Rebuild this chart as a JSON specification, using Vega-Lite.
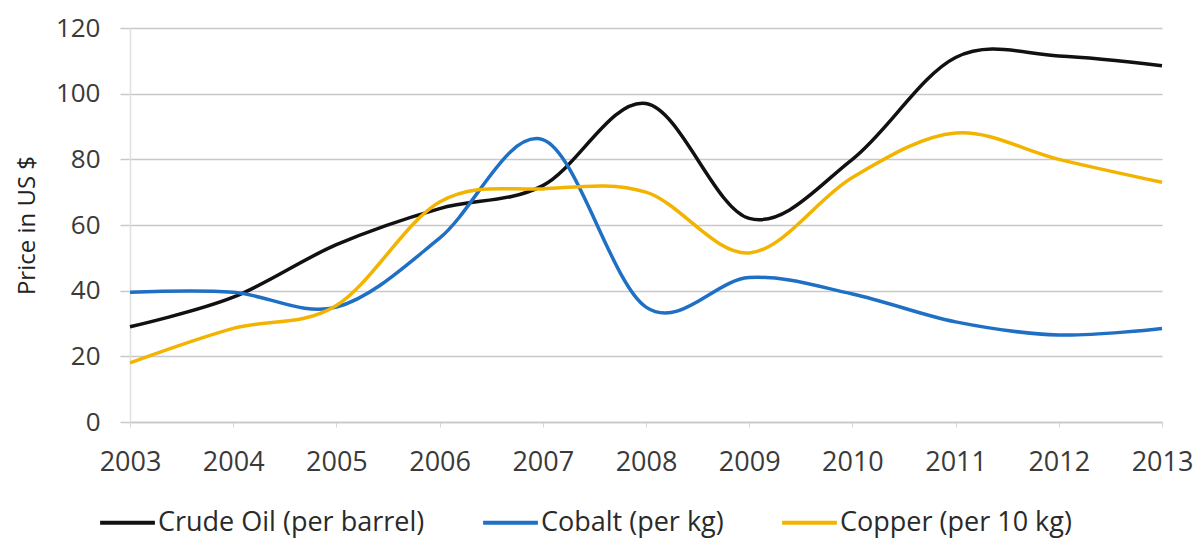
{
  "$schema": "https://vega.github.io/schema/vega-lite/v6.json",
  "width": 1032,
  "height": 394,
  "autosize": {"type": "none"},
  "padding": {"left": 130, "top": 28, "right": 39, "bottom": 123},
  "background": "white",
  "config": {
    "font": "Open Sans",
    "view": {"stroke": null}
  },
  "data": {
    "values": [
      {"year": 2003, "series": "Crude Oil (per barrel)", "price": 29},
      {"year": 2004, "series": "Crude Oil (per barrel)", "price": 38},
      {"year": 2005, "series": "Crude Oil (per barrel)", "price": 54},
      {"year": 2006, "series": "Crude Oil (per barrel)", "price": 65},
      {"year": 2007, "series": "Crude Oil (per barrel)", "price": 72},
      {"year": 2008, "series": "Crude Oil (per barrel)", "price": 97},
      {"year": 2009, "series": "Crude Oil (per barrel)", "price": 62},
      {"year": 2010, "series": "Crude Oil (per barrel)", "price": 80},
      {"year": 2011, "series": "Crude Oil (per barrel)", "price": 111},
      {"year": 2012, "series": "Crude Oil (per barrel)", "price": 111.5},
      {"year": 2013, "series": "Crude Oil (per barrel)", "price": 108.5},
      {"year": 2003, "series": "Cobalt (per kg)", "price": 39.5},
      {"year": 2004, "series": "Cobalt (per kg)", "price": 39.5},
      {"year": 2005, "series": "Cobalt (per kg)", "price": 35},
      {"year": 2006, "series": "Cobalt (per kg)", "price": 56},
      {"year": 2007, "series": "Cobalt (per kg)", "price": 86},
      {"year": 2008, "series": "Cobalt (per kg)", "price": 35},
      {"year": 2009, "series": "Cobalt (per kg)", "price": 44},
      {"year": 2010, "series": "Cobalt (per kg)", "price": 39},
      {"year": 2011, "series": "Cobalt (per kg)", "price": 30.5},
      {"year": 2012, "series": "Cobalt (per kg)", "price": 26.5},
      {"year": 2013, "series": "Cobalt (per kg)", "price": 28.5},
      {"year": 2003, "series": "Copper (per 10 kg)", "price": 18},
      {"year": 2004, "series": "Copper (per 10 kg)", "price": 28.5},
      {"year": 2005, "series": "Copper (per 10 kg)", "price": 35.5},
      {"year": 2006, "series": "Copper (per 10 kg)", "price": 67},
      {"year": 2007, "series": "Copper (per 10 kg)", "price": 71},
      {"year": 2008, "series": "Copper (per 10 kg)", "price": 70},
      {"year": 2009, "series": "Copper (per 10 kg)", "price": 51.5},
      {"year": 2010, "series": "Copper (per 10 kg)", "price": 74.5},
      {"year": 2011, "series": "Copper (per 10 kg)", "price": 88},
      {"year": 2012, "series": "Copper (per 10 kg)", "price": 80},
      {"year": 2013, "series": "Copper (per 10 kg)", "price": 73}
    ]
  },
  "mark": {"type": "line", "interpolate": "cardinal", "strokeWidth": 3.5},
  "encoding": {
    "x": {
      "field": "year",
      "type": "quantitative",
      "scale": {"domain": [2003, 2013], "nice": false, "zero": false},
      "axis": {
        "title": null,
        "values": [2003, 2004, 2005, 2006, 2007, 2008, 2009, 2010, 2011, 2012, 2013],
        "format": "d",
        "grid": false,
        "domainColor": "#c8c8c8",
        "domainWidth": 1.5,
        "tickColor": "#d8d8d8",
        "tickSize": 5,
        "labelPadding": 22,
        "labelFontSize": 27,
        "labelColor": "#3a3a3a",
        "labelFlush": false
      }
    },
    "y": {
      "field": "price",
      "type": "quantitative",
      "scale": {"domain": [0, 120], "nice": false},
      "axis": {
        "title": "Price in US $",
        "titleFontSize": 24,
        "titleFontWeight": "normal",
        "titleColor": "#222222",
        "titlePadding": 16,
        "values": [0, 20, 40, 60, 80, 100, 120],
        "grid": true,
        "gridColor": "#c8c8c8",
        "gridWidth": 1.5,
        "domainColor": "#e0e0e0",
        "domainWidth": 1.5,
        "tickColor": "#c8c8c8",
        "tickSize": 10,
        "tickWidth": 1.5,
        "labelPadding": 20,
        "labelFontSize": 26,
        "labelColor": "#3a3a3a"
      }
    },
    "color": {
      "field": "series",
      "type": "nominal",
      "scale": {
        "domain": ["Crude Oil (per barrel)", "Cobalt (per kg)", "Copper (per 10 kg)"],
        "range": ["#111111", "#1f70c4", "#f2b400"]
      },
      "legend": {
        "title": null,
        "orient": "none",
        "direction": "horizontal",
        "legendX": -32,
        "legendY": 465,
        "symbolType": "stroke",
        "symbolSize": 3000,
        "symbolStrokeWidth": 4,
        "labelFontSize": 27,
        "labelColor": "#2a2a2a",
        "labelOffset": 1,
        "columnPadding": 50,
        "labelLimit": 500
      }
    }
  }
}
